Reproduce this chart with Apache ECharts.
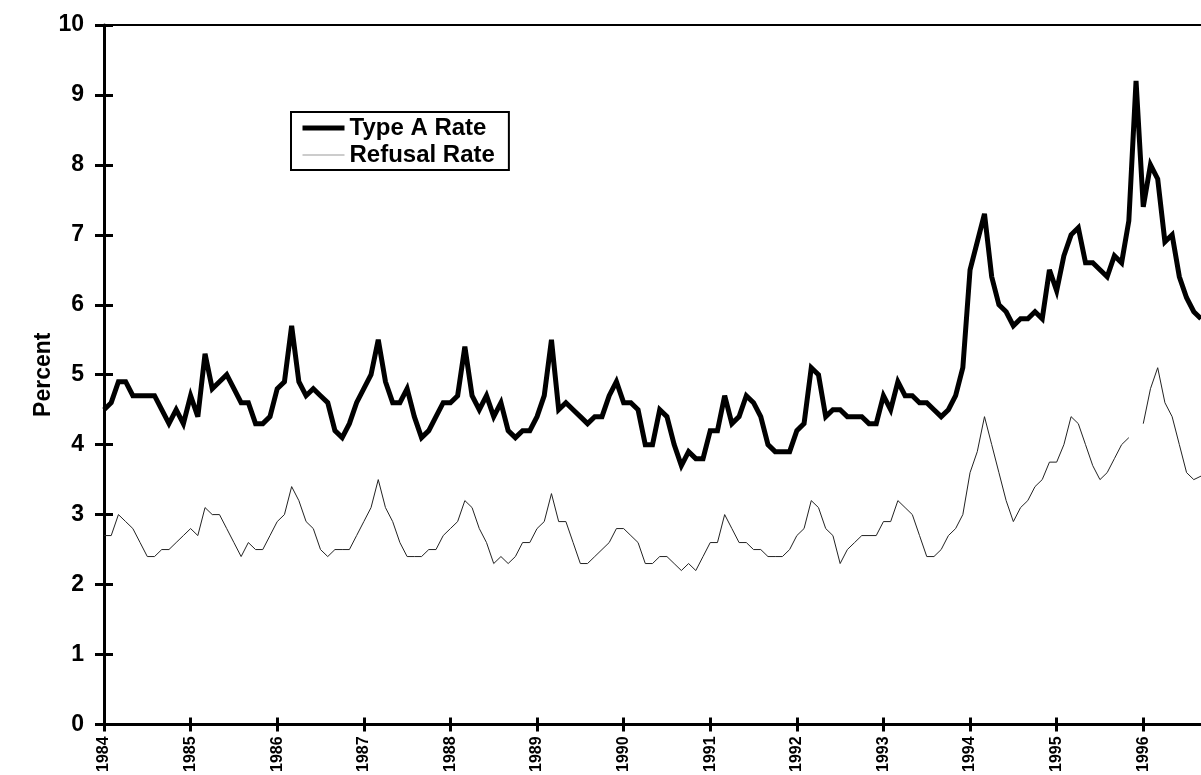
<!DOCTYPE html>
<html>
<head>
<meta charset="utf-8">
<script src="https://cdn.jsdelivr.net/npm/echarts@6/dist/echarts.min.js"></script>
<style>
  html, body { margin: 0; padding: 0; background: #fff; }
  #chart { width: 1201px; height: 775px; }
</style>
</head>
<body>
<div id="chart"></div>
<script>
// tick labels (one per January)
const years = ['1984', '1985', '1986', '1987', '1988', '1989', '1990',
  '1991', '1992', '1993', '1994', '1995', '1996'];

// monthly Type A rate, Jan 1984 .. Sep 1996
const typeARate = [
  4.5, 4.6, 4.9, 4.9, 4.7, 4.7, 4.7, 4.7, 4.5, 4.3, 4.5, 4.3,
  4.7, 4.4, 5.3, 4.8, 4.9, 5.0, 4.8, 4.6, 4.6, 4.3, 4.3, 4.4,
  4.8, 4.9, 5.7, 4.9, 4.7, 4.8, 4.7, 4.6, 4.2, 4.1, 4.3, 4.6,
  4.8, 5.0, 5.5, 4.9, 4.6, 4.6, 4.8, 4.4, 4.1, 4.2, 4.4, 4.6,
  4.6, 4.7, 5.4, 4.7, 4.5, 4.7, 4.4, 4.6, 4.2, 4.1, 4.2, 4.2,
  4.4, 4.7, 5.5, 4.5, 4.6, 4.5, 4.4, 4.3, 4.4, 4.4, 4.7, 4.9,
  4.6, 4.6, 4.5, 4.0, 4.0, 4.5, 4.4, 4.0, 3.7, 3.9, 3.8, 3.8,
  4.2, 4.2, 4.7, 4.3, 4.4, 4.7, 4.6, 4.4, 4.0, 3.9, 3.9, 3.9,
  4.2, 4.3, 5.1, 5.0, 4.4, 4.5, 4.5, 4.4, 4.4, 4.4, 4.3, 4.3,
  4.7, 4.5, 4.9, 4.7, 4.7, 4.6, 4.6, 4.5, 4.4, 4.5, 4.7, 5.1,
  6.5, 6.9, 7.3, 6.4, 6.0, 5.9, 5.7, 5.8, 5.8, 5.9, 5.8, 6.5,
  6.2, 6.7, 7.0, 7.1, 6.6, 6.6, 6.5, 6.4, 6.7, 6.6, 7.2, 9.2,
  7.4, 8.0, 7.8, 6.9, 7.0, 6.4, 6.1, 5.9, 5.8
];

// monthly refusal rate (one month missing at end of 1995)
const refusalRate = [
  2.7, 2.7, 3.0, 2.9, 2.8, 2.6, 2.4, 2.4, 2.5, 2.5, 2.6, 2.7,
  2.8, 2.7, 3.1, 3.0, 3.0, 2.8, 2.6, 2.4, 2.6, 2.5, 2.5, 2.7,
  2.9, 3.0, 3.4, 3.2, 2.9, 2.8, 2.5, 2.4, 2.5, 2.5, 2.5, 2.7,
  2.9, 3.1, 3.5, 3.1, 2.9, 2.6, 2.4, 2.4, 2.4, 2.5, 2.5, 2.7,
  2.8, 2.9, 3.2, 3.1, 2.8, 2.6, 2.3, 2.4, 2.3, 2.4, 2.6, 2.6,
  2.8, 2.9, 3.3, 2.9, 2.9, 2.6, 2.3, 2.3, 2.4, 2.5, 2.6, 2.8,
  2.8, 2.7, 2.6, 2.3, 2.3, 2.4, 2.4, 2.3, 2.2, 2.3, 2.2, 2.4,
  2.6, 2.6, 3.0, 2.8, 2.6, 2.6, 2.5, 2.5, 2.4, 2.4, 2.4, 2.5,
  2.7, 2.8, 3.2, 3.1, 2.8, 2.7, 2.3, 2.5, 2.6, 2.7, 2.7, 2.7,
  2.9, 2.9, 3.2, 3.1, 3.0, 2.7, 2.4, 2.4, 2.5, 2.7, 2.8, 3.0,
  3.6, 3.9, 4.4, 4.0, 3.6, 3.2, 2.9, 3.1, 3.2, 3.4, 3.5, 3.75,
  3.75, 4.0, 4.4, 4.3, 4.0, 3.7, 3.5, 3.6, 3.8, 4.0, 4.1, null,
  4.3, 4.8, 5.1, 4.6, 4.4, 4.0, 3.6, 3.5, 3.55
];

// category per month, label only on January
const months = typeARate.map((v, i) => years[Math.floor(i / 12)] + '-' + (i % 12 + 1));

const font = 'Liberation Sans, Arial, sans-serif';

const myChart = echarts.init(document.getElementById('chart'));

const option = {
  animation: false,
  backgroundColor: '#fff',
  grid: {
    left: 104,
    right: 0,
    top: 25,
    bottom: 50
  },
  legend: {
    orient: 'vertical',
    left: 291,
    top: 112,
    data: [
      { name: 'Type A Rate', lineStyle: { color: '#000', width: 5 } },
      { name: 'Refusal Rate', lineStyle: { color: '#999', width: 1 } }
    ],
    backgroundColor: '#fff',
    borderColor: '#000',
    borderWidth: 2,
    borderRadius: 0,
    padding: [4, 14, 3, 9],
    itemGap: 3,
    itemWidth: 42,
    itemHeight: 16,
    // hide the round marker, keep the line sample
    itemStyle: { color: 'rgba(0,0,0,0)', borderWidth: 0 },
    textStyle: {
      fontFamily: font,
      fontWeight: 'bold',
      fontSize: 24,
      color: '#000'
    }
  },
  xAxis: [
    {
      type: 'category',
      data: months,
      boundaryGap: false,
      position: 'bottom',
      axisLine: { lineStyle: { color: '#000', width: 3 } },
      axisTick: {
        interval: 11,
        length: 7,
        lineStyle: { color: '#000', width: 3 }
      },
      axisLabel: {
        interval: 11,
        rotate: 90,
        margin: 12,
        color: '#000',
        fontFamily: font,
        fontWeight: 'bold',
        fontSize: 16,
        formatter: v => v.split('-')[0]
      },
      splitLine: { show: false }
    },
    {
      // inner half of the crossing ticks
      type: 'category',
      data: months,
      boundaryGap: false,
      position: 'bottom',
      axisLine: { show: false },
      axisTick: {
        interval: 11,
        inside: true,
        length: 7,
        lineStyle: { color: '#000', width: 3 }
      },
      axisLabel: { show: false },
      splitLine: { show: false }
    },
    {
      // top frame line
      type: 'category',
      data: months,
      boundaryGap: false,
      position: 'top',
      axisLine: { lineStyle: { color: '#000', width: 2 } },
      axisTick: { show: false },
      axisLabel: { show: false },
      splitLine: { show: false }
    }
  ],
  yAxis: [
    {
      type: 'value',
      min: 0,
      max: 10,
      interval: 1,
      position: 'left',
      name: 'Percent',
      nameLocation: 'middle',
      nameGap: 49,
      nameMoveOverlap: false,
      nameTextStyle: {
        fontFamily: font,
        fontWeight: 'bold',
        fontSize: 23,
        color: '#000'
      },
      axisLine: { show: true, lineStyle: { color: '#000', width: 3 } },
      axisTick: {
        show: true,
        length: 9,
        lineStyle: { color: '#000', width: 3 }
      },
      axisLabel: {
        margin: 20,
        color: '#000',
        fontFamily: font,
        fontWeight: 'bold',
        fontSize: 23
      },
      splitLine: { show: false }
    },
    {
      type: 'value',
      min: 0,
      max: 10,
      interval: 1,
      position: 'left',
      axisLine: { show: false },
      axisTick: {
        show: true,
        inside: true,
        length: 9,
        lineStyle: { color: '#000', width: 3 }
      },
      axisLabel: { show: false },
      splitLine: { show: false }
    }
  ],
  series: [
    {
      name: 'Refusal Rate',
      type: 'line',
      data: refusalRate,
      symbol: 'none',
      connectNulls: false,
      color: '#222',
      lineStyle: { color: '#222', width: 1 },
      z: 2
    },
    {
      name: 'Type A Rate',
      type: 'line',
      data: typeARate,
      symbol: 'none',
      color: '#000',
      lineStyle: { color: '#000', width: 5, join: 'miter', miterLimit: 4 },
      z: 3
    }
  ]
};

myChart.setOption(option);
</script>
</body>
</html>
